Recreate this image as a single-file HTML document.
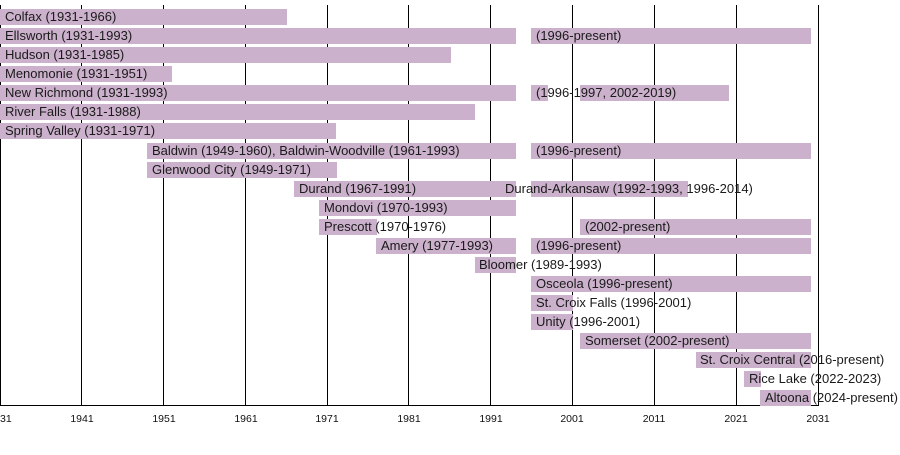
<!DOCTYPE html>
<html><head><meta charset="utf-8"><style>
body{margin:0;width:900px;height:455px;background:#fff;position:relative;overflow:hidden;font-family:"Liberation Sans",sans-serif;}
.g{position:absolute;top:5px;width:1px;height:400px;background:#000;}
.b{position:absolute;height:16px;background:#ccb1cc;}
.t{position:absolute;font-size:13px;color:#1a1a1a;line-height:16px;white-space:nowrap;}
.x{position:absolute;top:413px;font-size:10.5px;color:#111;width:40px;text-align:center;}
</style></head><body>
<div class="g" style="left:0"></div><div class="g" style="left:81px"></div><div class="g" style="left:163px"></div><div class="g" style="left:245px"></div><div class="g" style="left:327px"></div><div class="g" style="left:408px"></div><div class="g" style="left:490px"></div><div class="g" style="left:572px"></div><div class="g" style="left:654px"></div><div class="g" style="left:736px"></div><div class="g" style="left:818px"></div>
<div style="position:absolute;left:0;top:405px;width:819px;height:1px;background:#000"></div>
<div class="x" style="left:-20px">1931</div><div class="x" style="left:62px">1941</div><div class="x" style="left:144px">1951</div><div class="x" style="left:226px">1961</div><div class="x" style="left:307px">1971</div><div class="x" style="left:389px">1981</div><div class="x" style="left:471px">1991</div><div class="x" style="left:552px">2001</div><div class="x" style="left:634px">2011</div><div class="x" style="left:716px">2021</div><div class="x" style="left:798px">2031</div>

<div class="b" style="top:9px;left:0;width:287px"></div><div class="t" style="top:9px;left:5px">Colfax (1931-1966)</div>
<div class="b" style="top:28px;left:0;width:516px"></div><div class="b" style="top:28px;left:531px;width:280px"></div><div class="t" style="top:28px;left:5px">Ellsworth (1931-1993)</div><div class="t" style="top:28px;left:536px">(1996-present)</div>
<div class="b" style="top:47px;left:0;width:451px"></div><div class="t" style="top:47px;left:5px">Hudson (1931-1985)</div>
<div class="b" style="top:66px;left:0;width:172px"></div><div class="t" style="top:66px;left:5px">Menomonie (1931-1951)</div>
<div class="b" style="top:85px;left:0;width:516px"></div><div class="b" style="top:85px;left:531px;width:17px"></div><div class="b" style="top:85px;left:580px;width:149px"></div><div class="t" style="top:85px;left:5px">New Richmond (1931-1993)</div><div class="t" style="top:85px;left:536px">(1996-1997, 2002-2019)</div>
<div class="b" style="top:104px;left:0;width:475px"></div><div class="t" style="top:104px;left:5px">River Falls (1931-1988)</div>
<div class="b" style="top:123px;left:0;width:336px"></div><div class="t" style="top:123px;left:5px">Spring Valley (1931-1971)</div>
<div class="b" style="top:143px;left:147px;width:369px"></div><div class="b" style="top:143px;left:531px;width:280px"></div><div class="t" style="top:143px;left:152px">Baldwin (1949-1960), Baldwin-Woodville (1961-1993)</div><div class="t" style="top:143px;left:536px">(1996-present)</div>
<div class="b" style="top:162px;left:147px;width:190px"></div><div class="t" style="top:162px;left:152px">Glenwood City (1949-1971)</div>
<div class="b" style="top:181px;left:294px;width:222px"></div><div class="b" style="top:181px;left:531px;width:157px"></div><div class="t" style="top:181px;left:299px">Durand (1967-1991)</div><div class="t" style="top:181px;left:505px">Durand-Arkansaw (1992-1993, 1996-2014)</div>
<div class="b" style="top:200px;left:319px;width:197px"></div><div class="t" style="top:200px;left:324px">Mondovi (1970-1993)</div>
<div class="b" style="top:219px;left:319px;width:58px"></div><div class="b" style="top:219px;left:580px;width:231px"></div><div class="t" style="top:219px;left:324px">Prescott (1970-1976)</div><div class="t" style="top:219px;left:585px">(2002-present)</div>
<div class="b" style="top:238px;left:376px;width:140px"></div><div class="b" style="top:238px;left:531px;width:280px"></div><div class="t" style="top:238px;left:381px">Amery (1977-1993)</div><div class="t" style="top:238px;left:536px">(1996-present)</div>
<div class="b" style="top:257px;left:475px;width:41px"></div><div class="t" style="top:257px;left:479px">Bloomer (1989-1993)</div>
<div class="b" style="top:276px;left:531px;width:280px"></div><div class="t" style="top:276px;left:536px">Osceola (1996-present)</div>
<div class="b" style="top:295px;left:531px;width:42px"></div><div class="t" style="top:295px;left:536px">St. Croix Falls (1996-2001)</div>
<div class="b" style="top:314px;left:531px;width:42px"></div><div class="t" style="top:314px;left:536px">Unity (1996-2001)</div>
<div class="b" style="top:333px;left:580px;width:231px"></div><div class="t" style="top:333px;left:585px">Somerset (2002-present)</div>
<div class="b" style="top:352px;left:696px;width:115px"></div><div class="t" style="top:352px;left:700px">St. Croix Central (2016-present)</div>
<div class="b" style="top:371px;left:744px;width:17px"></div><div class="t" style="top:371px;left:749px">Rice Lake (2022-2023)</div>
<div class="b" style="top:390px;left:760px;width:51px"></div><div class="t" style="top:390px;left:765px">Altoona (2024-present)</div>
</body></html>
